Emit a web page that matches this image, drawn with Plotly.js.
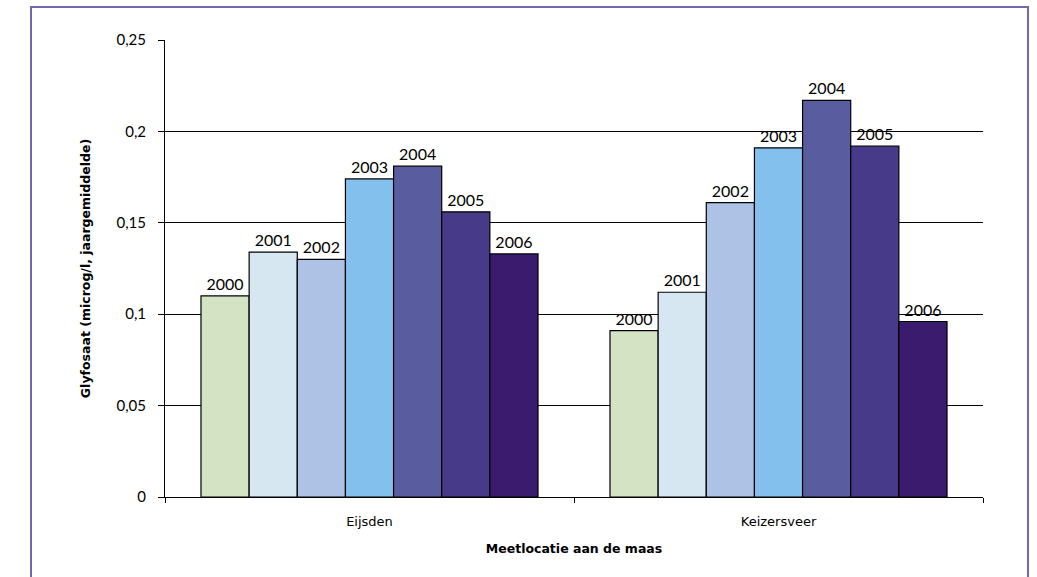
<!DOCTYPE html>
<html>
<head>
<meta charset="utf-8">
<script src="https://cdn.plot.ly/plotly-3.0.1.min.js"></script>
<style>
html,body{margin:0;padding:0;background:#fff;}
#chart{width:1037px;height:577px;}
</style>
</head>
<body>
<div id="chart"></div>
<script>
const categories = ["Eijsden", "Keizersveer"];
const years = ["2000", "2001", "2002", "2003", "2004", "2005", "2006"];
const v2000 = [0.110, 0.091];
const v2001 = [0.134, 0.112];
const v2002 = [0.130, 0.161];
const v2003 = [0.174, 0.191];
const v2004 = [0.181, 0.217];
const v2005 = [0.156, 0.192];
const v2006 = [0.133, 0.096];
const seriesValues = [v2000, v2001, v2002, v2003, v2004, v2005, v2006];
const colors = ["#d3e3c3", "#d6e7f2", "#aec2e6", "#84c0ed", "#5a5ca0", "#463a89", "#3a1b6e"];

const traces = years.map((yr, i) => ({
  type: "bar",
  name: yr,
  x: categories,
  y: seriesValues[i],
  text: categories.map(() => yr),
  textposition: "outside",
  cliponaxis: false,
  constraintext: "none",
  textfont: {family: "Lato, 'DejaVu Sans', sans-serif", size: 16, color: "#000"},
  marker: {color: colors[i], line: {color: "#000", width: 1.2}},
  hoverinfo: "skip"
}));

const layout = {
  width: 1037,
  height: 577,
  margin: {l: 165, r: 54, t: 40, b: 80},
  paper_bgcolor: "#fff",
  plot_bgcolor: "#fff",
  showlegend: false,
  barmode: "group",
  bargap: 0.176,
  bargroupgap: 0,
  separators: ",.",
  font: {family: "'DejaVu Sans', sans-serif", size: 13, color: "#000"},
  xaxis: {
    type: "category",
    showline: true, linecolor: "#000", linewidth: 1,
    ticks: "outside", tickson: "boundaries", ticklen: 5, tickcolor: "#000",
    ticklabelstandoff: 12,
    showgrid: false,
    tickfont: {family: "'DejaVu Sans', sans-serif", size: 13},
    title: {text: "<b>Meetlocatie aan de maas</b>", font: {family: "'DejaVu Sans', sans-serif", size: 12.5}, standoff: 16}
  },
  yaxis: {
    range: [0, 0.25],
    dtick: 0.05, tick0: 0,
    showline: true, linecolor: "#000", linewidth: 1,
    ticks: "outside", ticklen: 6, tickcolor: "#000",
    ticklabelstandoff: 9,
    showgrid: true, gridcolor: "#000", gridwidth: 1,
    zeroline: false,
    tickfont: {family: "Lato, 'DejaVu Sans', sans-serif", size: 15},
    title: {text: "<b>Glyfosaat (microg/l, jaargemiddelde)</b>", font: {family: "'DejaVu Sans', sans-serif", size: 12.5}, standoff: 23}
  },
  shapes: [{
    type: "rect", xref: "paper", yref: "paper",
    x0: -0.1638, x1: 1.055, y0: -0.25, y1: 1.072,
    line: {color: "#7467b0", width: 2}, fillcolor: "rgba(0,0,0,0)", layer: "below"
  }]
};

Plotly.newPlot("chart", traces, layout, {displayModeBar: false, staticPlot: true});
</script>
</body>
</html>
